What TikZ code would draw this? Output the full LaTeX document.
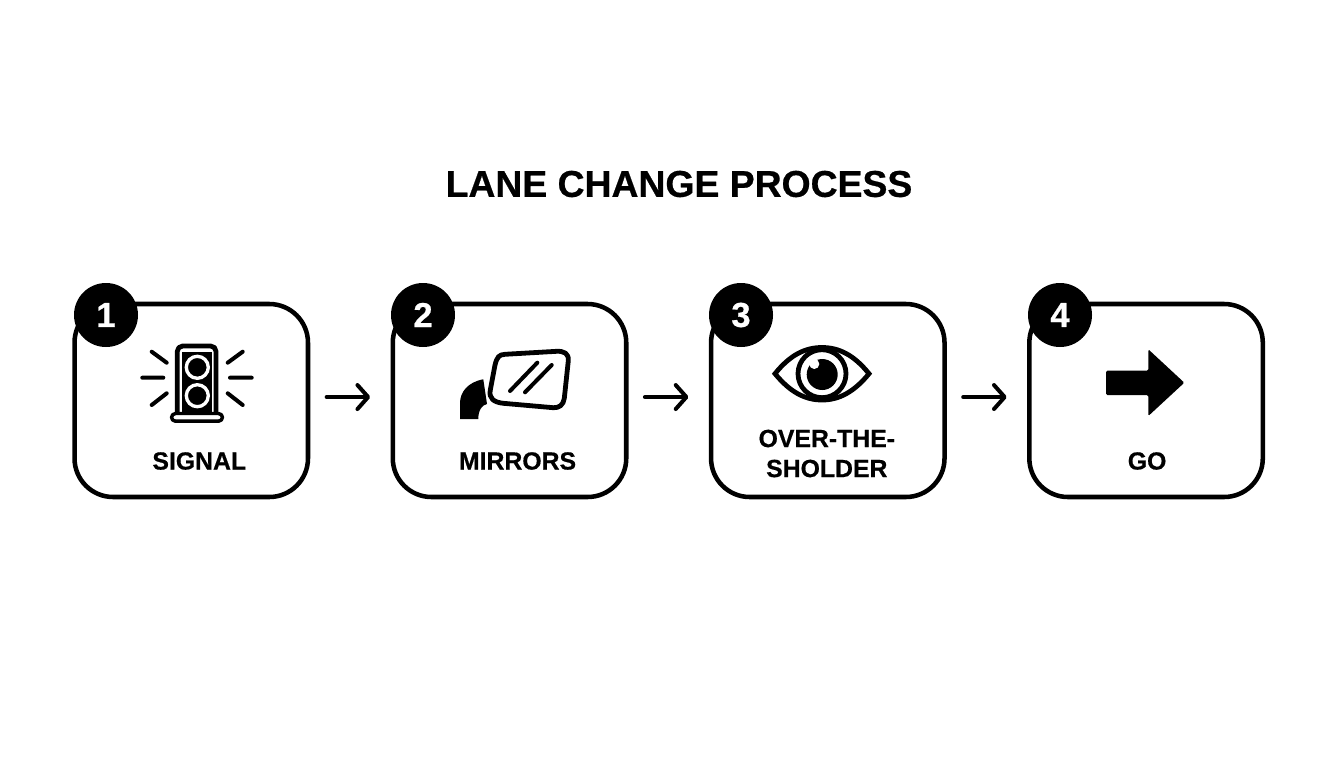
\documentclass[tikz,border=0pt]{standalone}
\usepackage{fontspec}
\setmainfont[BoldFeatures={FakeBold=0.6}]{Liberation Sans}
\usetikzlibrary{arrows.meta,calc,positioning}

\begin{document}
\begin{tikzpicture}[x=0.75pt,y=-0.75pt,
  stepbox/.style={draw,rectangle,rounded corners=29pt,line width=3.4pt,minimum width=175.1pt,minimum height=144.75pt,inner sep=0pt,outer sep=0pt,node distance=63.6pt},
  badge/.style={circle,fill=black,text=white,minimum size=48pt,inner sep=0pt,font=\fontsize{26}{26}\bfseries},
  steplabel/.style={align=center,inner sep=0pt,font=\fontsize{18.6}{22.5}\bfseries},
  flow/.style={-{Straight Barb[length=8pt,width=18pt,round]},line width=3pt,line cap=round,shorten <=14pt,shorten >=17pt},
  ray/.style={line width=3pt,line cap=round},
  icon/.style={line width=3.6pt,line join=round}]

  \useasboundingbox (0,0) rectangle (1344,768);

  \node (title) [font=\fontsize{28}{28}\bfseries] at (679,184) {LANE CHANGE PROCESS};

  \node (signal) [stepbox] at (191.25,400.5) {};
  \node (mirrors) [stepbox,right = of signal] {};
  \node (shoulder) [stepbox,right = of mirrors] {};
  \node (go) [stepbox,right = of shoulder] {};

  \node (badge1) [badge] at (106,315) {1};
  \node (badge2) [badge] at (423,315) {2};
  \node (badge3) [badge] at (741,315) {3};
  \node (badge4) [badge] at (1060,315) {4};

  \node (signallabel) [steplabel] at ($(signal.center)+(8,60.5)$) {SIGNAL};
  \node (mirrorslabel) [steplabel] at ($(mirrors.center)+(8,60.5)$) {MIRRORS};
  \node (shoulderlabel) [steplabel] at ($(shoulder.center)+(-1,53)$) {OVER-THE-\\SHOLDER};
  \node (golabel) [steplabel] at ($(go.center)+(1,60.5)$) {GO};

  \draw[flow] ([yshift=2.6pt]signal.east) -- ([yshift=2.6pt]mirrors.west);
  \draw[flow] ([yshift=2.6pt]mirrors.east) -- ([yshift=2.6pt]shoulder.west);
  \draw[flow] ([yshift=2.6pt]shoulder.east) -- ([yshift=2.6pt]go.west);

  % signal icon
  \draw[ray] (151.7,351.7) -- (166.7,362.7) (142.3,377.7) -- (163.3,377.7) (151.7,405) -- (166.7,393.3);
  \draw[ray] (227.7,362.7) -- (242.7,351.7) (230,377.7) -- (251.7,377.7) (227.7,393.3) -- (242.7,405);
  \draw[icon,rounded corners=4pt,fill=white] (177.3,414) -- (177.3,346) -- (216,346) -- (216,414);
  \fill (182.3,351.7) rectangle (211.7,411.7);
  \draw[icon,line width=2.6pt,rounded corners=3pt,fill=white] (171.5,413.5) rectangle (222.5,421.2);
  \draw[white,fill=black,line width=2.5pt] (197.3,367.3) circle (11);
  \draw[white,fill=black,line width=2.5pt] (197.3,395.7) circle (11);

  % mirror icon
  \draw[icon] (505,354.3) -- (556.7,351.3) .. controls (564,351) and (569,353.5) .. (568.3,360.7)
    -- (564.3,398.3) .. controls (563.5,405) and (559,408) .. (553.3,407.7)
    -- (503.3,403.3) .. controls (494,402.3) and (488.5,398.5) .. (490.3,390)
    -- (495,365) .. controls (497,357) and (499,354.6) .. (505,354.3) -- cycle;
  \draw[ray] (510,391) -- (537.3,362.7) (525,392.3) -- (551.7,365);
  \fill (460,419) -- (460,403) .. controls (460,392) and (468,382) .. (483.3,379.3)
    -- (487,404) .. controls (482,405) and (478.3,410) .. (478.3,419) -- cycle;

  % eye icon
  \draw[icon,line join=miter] (775,373.7) .. controls (790,355) and (805,347.5) .. (822,347.5)
    .. controls (839,347.5) and (854,355) .. (869,373.7)
    .. controls (854,392) and (839,400) .. (822,400)
    .. controls (805,400) and (790,392) .. (775,373.7) -- cycle;
  \draw[icon] (822,373.7) circle (24);
  \fill (822.2,374.5) circle (15.5);
  \fill[white] (814.3,364) circle (5);

  % go arrow
  \fill[rounded corners=1pt] (1106,370.7) -- (1148.3,370.7) -- (1148.3,349.3) -- (1184.3,382.7)
    -- (1148.3,416) -- (1148.3,395) -- (1106,395) -- cycle;
\end{tikzpicture}
\end{document}
